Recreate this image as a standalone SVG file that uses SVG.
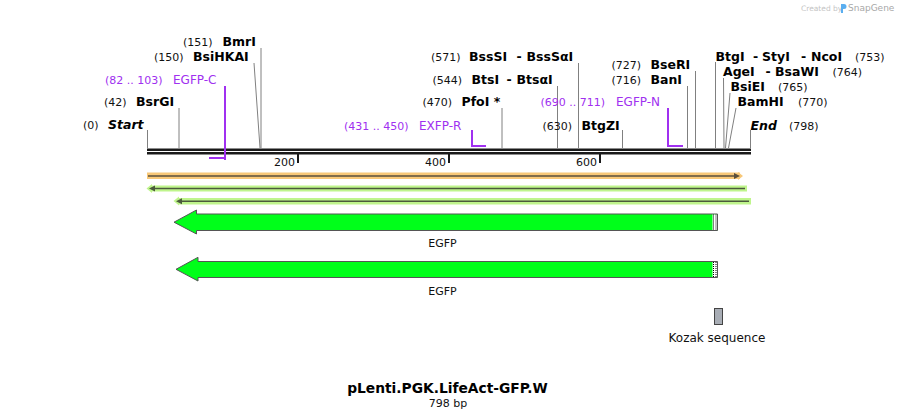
<svg xmlns="http://www.w3.org/2000/svg" width="898" height="419" viewBox="0 0 898 419">
<style>
text{font-family:"DejaVu Sans",Verdana,sans-serif;}
.n{font-size:11px;fill:#111;}
.b{font-size:12.5px;font-weight:bold;fill:#000;}
.bi{font-size:12.5px;font-weight:bold;font-style:italic;fill:#000;}
.p{font-size:11px;fill:#a030f0;}
.pn{font-size:12px;fill:#a030f0;}
.cut{stroke:#808080;stroke-width:1;fill:none;}
.pr{stroke:#a030f0;stroke-width:2;fill:none;}
.lbl{font-size:11px;fill:#111;text-anchor:middle;}
.ft{fill:#00ff1a;stroke:#555;stroke-width:1;}
</style>
<rect width="898" height="419" fill="#fff"/>
<g id="watermark">
<text x="801" y="11" style="font-size:7.5px;fill:#c4c4c4">Created by</text>
<path d="M841,4 h3 a2.5,2.5 0 0 1 0,5 h-1 v4 h-2 z" fill="#5aaef0"/>
<text x="848" y="11" style="font-size:9px;fill:#a8a8a8">SnapGene</text>
</g>
<g id="sequence">
<rect x="147" y="148.5" width="604" height="2.5" fill="#1a1a1a"/>
<rect x="147" y="152" width="604" height="2.5" fill="#1a1a1a"/>
<g id="ticks" stroke="#1a1a1a" stroke-width="2">
<line x1="298" y1="154" x2="298" y2="163"/>
<line x1="449" y1="154" x2="449" y2="163"/>
<line x1="600" y1="154" x2="600" y2="163"/>
</g>
<text class="n" x="295" y="166" text-anchor="end">200</text>
<text class="n" x="446" y="166" text-anchor="end">400</text>
<text class="n" x="597" y="166" text-anchor="end">600</text>
</g>
<g id="connectors">
<line class="cut" x1="147.5" y1="130" x2="147.5" y2="148"/>
<line class="cut" x1="179" y1="108" x2="179" y2="148"/>
<line class="cut" x1="254" y1="63" x2="260" y2="148"/>
<line class="cut" x1="261" y1="48" x2="261" y2="148"/>
<line class="cut" x1="502" y1="108" x2="502" y2="148"/>
<line class="cut" x1="557.5" y1="86" x2="557.5" y2="148"/>
<line class="cut" x1="578.5" y1="63" x2="578.5" y2="148"/>
<line class="cut" x1="622.5" y1="130" x2="622.5" y2="148"/>
<line class="cut" x1="687.5" y1="86" x2="687.5" y2="148"/>
<line class="cut" x1="695.5" y1="71" x2="695.5" y2="148"/>
<line class="cut" x1="715.5" y1="62" x2="715.5" y2="148"/>
<line class="cut" x1="723.5" y1="78" x2="724" y2="148"/>
<line class="cut" x1="730" y1="93" x2="725.5" y2="148"/>
<line class="cut" x1="736" y1="108" x2="728.5" y2="148"/>
<line class="cut" x1="750.5" y1="130" x2="750.5" y2="148"/>
<path class="pr" d="M225,86 V160 M209,158 H224"/>
<path class="pr" d="M472,130 V146 H486"/>
<path class="pr" d="M668,108 V146 H683"/>
</g>
<g id="labels">
<g id="start"><text class="n" x="83" y="129">(0)</text><text class="bi" x="108" y="129">Start</text></g>
<g id="BsrGI"><text class="n" x="104" y="106">(42)</text><text class="b" x="136" y="106">BsrGI</text></g>
<g id="EGFP-C"><text class="p" x="105" y="84">(82 .. 103)</text><text class="pn" x="173" y="84">EGFP-C</text></g>
<g id="BsiHKAI"><text class="n" x="154" y="61">(150)</text><text class="b" x="193" y="61">BsiHKAI</text></g>
<g id="BmrI"><text class="n" x="183" y="46">(151)</text><text class="b" x="222.5" y="46">BmrI</text></g>
<g id="EXFP-R"><text class="p" x="344" y="129.5">(431 .. 450)</text><text class="pn" x="419" y="129.5">EXFP-R</text></g>
<g id="PfoI"><text class="n" x="422.5" y="106">(470)</text><text class="b" x="461.5" y="106">PfoI *</text></g>
<g id="BtsI"><text class="n" x="432.5" y="84">(544)</text><text class="b" x="471.5" y="84">BtsI</text><text class="b" x="506.5" y="84">-</text><text class="b" x="516.5" y="84">BtsαI</text></g>
<g id="BssSI"><text class="n" x="431" y="61">(571)</text><text class="b" x="469" y="61">BssSI</text><text class="b" x="516.5" y="61">-</text><text class="b" x="526.5" y="61">BssSαI</text></g>
<g id="BtgZI"><text class="n" x="542.5" y="129.5">(630)</text><text class="b" x="581.5" y="129.5">BtgZI</text></g>
<g id="EGFP-N"><text class="p" x="540.5" y="106">(690 .. 711)</text><text class="pn" x="616" y="106">EGFP-N</text></g>
<g id="BanI"><text class="n" x="611.5" y="84">(716)</text><text class="b" x="650.5" y="84">BanI</text></g>
<g id="BseRI"><text class="n" x="611.5" y="68.5">(727)</text><text class="b" x="650.5" y="68.5">BseRI</text></g>
<g id="BtgI"><text class="b" x="715.5" y="61">BtgI</text><text class="b" x="753" y="61">-</text><text class="b" x="762" y="61">StyI</text><text class="b" x="801" y="61">-</text><text class="b" x="811" y="61">NcoI</text><text class="n" x="855" y="61">(753)</text></g>
<g id="AgeI"><text class="b" x="723" y="76">AgeI</text><text class="b" x="765.5" y="76">-</text><text class="b" x="775" y="76">BsaWI</text><text class="n" x="832.5" y="76">(764)</text></g>
<g id="BsiEI"><text class="b" x="730.5" y="91">BsiEI</text><text class="n" x="778" y="91">(765)</text></g>
<g id="BamHI"><text class="b" x="737.5" y="106">BamHI</text><text class="n" x="798" y="106">(770)</text></g>
<g id="end"><text class="bi" x="750.5" y="129.5">End</text><text class="n" x="789" y="129.5">(798)</text></g>
</g>
<g id="orange-row">
<rect x="147" y="172.5" width="593" height="6.5" fill="#f8c878"/>
<path d="M738,172 L743,176 L738,180 Z" fill="#f8c878"/>
<line x1="148" y1="176" x2="736" y2="176" stroke="#5a4f3c" stroke-width="1.6"/>
<path d="M734,173 L740,176 L734,179 Z" fill="#5a4f3c"/>
</g>
<g id="green-row-1">
<rect x="151" y="185.5" width="596" height="6" fill="#bff58c"/>
<path d="M152,184 L146.5,188.5 L152,193 Z" fill="#bff58c"/>
<line x1="153" y1="188.5" x2="745" y2="188.5" stroke="#4b5a3c" stroke-width="1.6"/>
<path d="M155,185.5 L149,188.5 L155,191.5 Z" fill="#4b5a3c"/>
</g>
<g id="green-row-2">
<rect x="178" y="198" width="573" height="6.5" fill="#bff58c"/>
<path d="M179,196.5 L173.5,201 L179,205.5 Z" fill="#bff58c"/>
<line x1="180" y1="201.2" x2="749" y2="201.2" stroke="#4b5a3c" stroke-width="1.6"/>
<path d="M182,198.2 L176,201.2 L182,204.2 Z" fill="#4b5a3c"/>
</g>
<g id="EGFP-1">
<path class="ft" d="M717.5,214 V230.5 H196.5 V234 L174,222.2 L196.5,210 V214 Z"/>
<rect x="712.5" y="214.5" width="4.5" height="15.5" fill="#fff"/>
<line x1="713.5" y1="214.5" x2="713.5" y2="230" stroke="#000" stroke-dasharray="1,1"/>
<line x1="716" y1="214.5" x2="716" y2="230" stroke="#000" stroke-dasharray="1,1"/>
<text class="lbl" x="442.5" y="247">EGFP</text>
</g>
<g id="EGFP-2">
<path class="ft" d="M717.5,261.5 V277.5 H198 V281 L176,269.3 L198,257.3 V261.5 Z"/>
<rect x="712.5" y="262" width="4.5" height="15" fill="#fff"/>
<line x1="713.5" y1="262" x2="713.5" y2="277" stroke="#000" stroke-dasharray="1,1"/>
<line x1="716" y1="262" x2="716" y2="277" stroke="#000" stroke-dasharray="1,1"/>
<text class="lbl" x="442.5" y="294.5">EGFP</text>
</g>
<g id="kozak">
<rect x="714.5" y="308.5" width="8" height="16" fill="#a8adb5" stroke="#444" stroke-width="1"/>
<text class="lbl" x="717" y="342" style="font-size:12px">Kozak sequence</text>
</g>
<g id="title">
<text x="447.5" y="393" text-anchor="middle" style="font-size:13.8px;font-weight:bold;fill:#000">pLenti.PGK.LifeAct-GFP.W</text>
<text x="448" y="407" text-anchor="middle" style="font-size:11px;fill:#111">798 bp</text>
</g>
</svg>
